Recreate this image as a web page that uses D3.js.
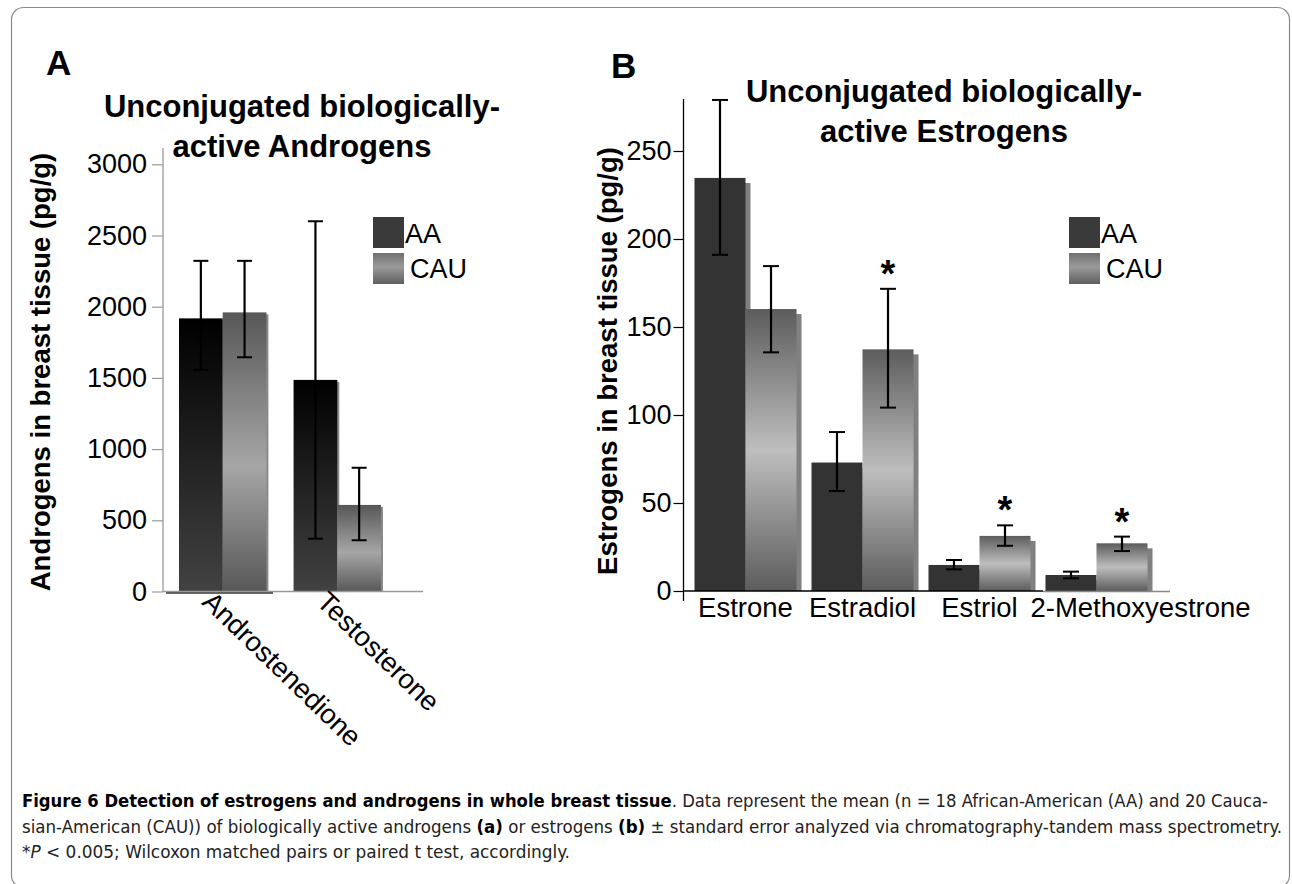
<!DOCTYPE html>
<html><head><meta charset="utf-8">
<script src="https://cdn.jsdelivr.net/npm/d3@7"></script>
<style>
html,body{margin:0;padding:0;background:#fff;}
svg{display:block;font-family:"Liberation Sans",Arial,sans-serif;}
.cap{font-family:"DejaVu Sans Condensed","DejaVu Sans",sans-serif;font-stretch:condensed;}
</style></head>
<body>
<svg id="c" width="1292" height="884"></svg>
<script>
// ---- Data ----
const seriesNames = ["AA", "CAU"];

const androCategories = ["Androstenedione", "Testosterone"];
const androAA = [1918, 1486];
const androAAHi = [2322, 2600];
const androAALo = [1556, 371];
const androCAU = [1960, 608];
const androCAUHi = [2322, 869];
const androCAULo = [1645, 360];
const androTicks = [0, 500, 1000, 1500, 2000, 2500, 3000];

const estroCategories = ["Estrone", "Estradiol", "Estriol", "2-Methoxyestrone"];
const estroAA = [234.7, 73, 14.8, 9.1];
const estroAAHi = [279, 90.3, 17.6, 11];
const estroAALo = [191, 56.8, 12.3, 7.2];
const estroCAU = [160.2, 137.3, 31.3, 27.1];
const estroCAUHi = [184.6, 171.7, 37.3, 30.9];
const estroCAULo = [135.6, 104.2, 25.7, 22.7];
const estroSig = [false, true, true, true];
const estroTicks = [0, 50, 100, 150, 200, 250];

const svg = d3.select("#c");
const defs = svg.append("defs");
function grad(id, stops) {
  const g = defs.append("linearGradient").attr("id", id)
    .attr("x1", 0).attr("y1", 0).attr("x2", 0).attr("y2", 1);
  stops.forEach(s => g.append("stop").attr("offset", s[0]).attr("stop-color", s[1]));
}
grad("gAAa", [[0, "#000"], [1, "#424242"]]);
grad("gCAUa", [[0, "#575757"], [0.55, "#a6a6a6"], [1, "#585858"]]);
grad("gAAb", [[0, "#333"], [1, "#333"]]);
grad("gCAUb", [[0, "#5c5c5c"], [0.5, "#bebebe"], [1, "#5c5c5c"]]);
grad("gLegCAU", [[0, "#707070"], [0.45, "#9a9a9a"], [1, "#5e5e5e"]]);

// frame
svg.append("rect").attr("x", 11.5).attr("y", 7.5).attr("width", 1278).attr("height", 880)
  .attr("rx", 12).attr("fill", "none").attr("stroke", "#8a8a8a").attr("stroke-width", 1.2);

function panel(o) {
  const g = svg.append("g");
  const x0 = d3.scaleBand().domain(o.cats).range(o.xRange).paddingInner(o.padInner).paddingOuter(0);
  const x1 = d3.scaleBand().domain(seriesNames).range([0, x0.bandwidth()]);
  const y = d3.scaleLinear().domain(o.yDomain).range(o.yRange);

  // y axis
  const ax = g.append("g").attr("transform", `translate(${o.axisX},0)`)
    .call(d3.axisLeft(y).tickValues(o.ticks).tickFormat(d3.format("d"))
      .tickSize(o.tickSize).tickPadding(o.tickPad));
  ax.select(".domain").remove();
  ax.selectAll(".tick line").attr("stroke", o.axisColor).attr("stroke-width", 1.2);
  ax.selectAll(".tick text").attr("font-size", 27).attr("fill", "#000")
    .attr("font-family", "Liberation Sans, Arial, sans-serif");
  g.append("line").attr("x1", o.axisX).attr("x2", o.axisX)
    .attr("y1", o.axisTop).attr("y2", o.axisBottom)
    .attr("stroke", o.axisColor).attr("stroke-width", 1.3);

  const rows = [];
  o.cats.forEach((c, i) => {
    rows.push({c, s: "AA", v: o.aa[i], hi: o.aaHi[i], lo: o.aaLo[i]});
    rows.push({c, s: "CAU", v: o.cau[i], hi: o.cauHi[i], lo: o.cauLo[i]});
  });

  // shadows
  g.selectAll(".sh").data(rows).join("rect")
    .attr("x", d => x0(d.c) + x1(d.s) + o.shadow)
    .attr("y", d => y(d.v) + o.shadow)
    .attr("width", x1.bandwidth())
    .attr("height", d => y(0) - y(d.v) - o.shadow)
    .attr("fill", o.shadowColor);
  // bars
  g.selectAll(".bar").data(rows).join("rect")
    .attr("x", d => x0(d.c) + x1(d.s))
    .attr("y", d => y(d.v))
    .attr("width", x1.bandwidth())
    .attr("height", d => y(0) - y(d.v))
    .attr("fill", d => d.s === "AA" ? `url(#${o.gAA})` : `url(#${o.gCAU})`);

  // x axis line
  o.xLines.forEach(l => g.append("line").attr("x1", l[0]).attr("x2", l[1])
    .attr("y1", y(0) + l[3]).attr("y2", y(0) + l[3]).attr("stroke", l[2]).attr("stroke-width", 1.5));

  // error bars
  const cx = d => x0(d.c) + x1(d.s) + x1.bandwidth() / 2;
  const eb = g.selectAll(".eb").data(rows).join("g");
  eb.append("line").attr("x1", cx).attr("x2", cx).attr("y1", d => y(d.hi)).attr("y2", d => y(d.lo))
    .attr("stroke", "#000").attr("stroke-width", 2.2);
  eb.append("line").attr("x1", d => cx(d) - o.cap).attr("x2", d => cx(d) + o.cap)
    .attr("y1", d => y(d.hi)).attr("y2", d => y(d.hi)).attr("stroke", "#000").attr("stroke-width", 2);
  eb.append("line").attr("x1", d => cx(d) - o.cap).attr("x2", d => cx(d) + o.cap)
    .attr("y1", d => y(d.lo)).attr("y2", d => y(d.lo)).attr("stroke", "#000").attr("stroke-width", 2);

  // significance
  if (o.sig) {
    g.selectAll(".sig").data(rows.filter(d => d.s === "CAU" && o.sig[o.cats.indexOf(d.c)]))
      .join("text").attr("x", cx).attr("y", d => y(d.hi) - 2)
      .attr("text-anchor", "middle").attr("font-size", 38).attr("font-weight", "bold").text("*");
  }

  // category labels
  o.catLabel(g, x0, y);

  // titles
  g.append("text").attr("x", o.letter[0]).attr("y", o.letter[1]).attr("font-size", 35)
    .attr("font-weight", "bold").text(o.letterText);
  o.title.forEach((t, i) => g.append("text").attr("x", o.titleX).attr("y", o.titleY + i * 40)
    .attr("text-anchor", "middle").attr("font-size", 31).attr("font-weight", "bold").text(t));
  g.append("text").attr("transform", `translate(${o.ylab[0]},${o.ylab[1]}) rotate(-90)`)
    .attr("text-anchor", "middle").attr("font-size", 27.5).attr("font-weight", "bold").text(o.ylabText);

  // legend
  const lg = g.append("g").attr("transform", `translate(${o.legend[0]},${o.legend[1]})`);
  lg.append("rect").attr("x", 0).attr("y", 0).attr("width", 31).attr("height", 31).attr("fill", "#3a3a3a");
  lg.append("rect").attr("x", 0).attr("y", 36).attr("width", 31).attr("height", 31).attr("fill", "url(#gLegCAU)");
  lg.append("text").attr("x", 32).attr("y", 26).attr("font-size", 27).text(seriesNames[0]);
  lg.append("text").attr("x", 37).attr("y", 61).attr("font-size", 27).text(seriesNames[1]);
}

panel({
  cats: androCategories, aa: androAA, aaHi: androAAHi, aaLo: androAALo,
  cau: androCAU, cauHi: androCAUHi, cauLo: androCAULo,
  xRange: [179, 381], padInner: 0.237,
  yDomain: [0, 3000], yRange: [591.5, 164.3], ticks: androTicks,
  axisX: 163, axisTop: 148, axisBottom: 592, axisColor: "#999", tickSize: 11, tickPad: 5,
  shadow: 2, shadowColor: "#8a8a8a", gAA: "gAAa", gCAU: "gCAUa", cap: 7.5,
  xLines: [[163, 423, "#999", 0], [166, 273, "#333", 1.5]],
  catLabel: (g, x0, y) => {
    androCategories.forEach(c => {
      g.append("text").attr("transform", `translate(${x0(c) + x0.bandwidth() / 2 - 22},${y(0) + 12}) rotate(44)`)
        .attr("font-size", 27.5).text(c);
    });
  },
  letter: [46, 75], letterText: "A",
  title: ["Unconjugated biologically-", "active Androgens"], titleX: 302, titleY: 117,
  ylab: [50, 372], ylabText: "Androgens in breast tissue (pg/g)",
  legend: [373, 217]
});

panel({
  cats: estroCategories, aa: estroAA, aaHi: estroAAHi, aaLo: estroAALo,
  cau: estroCAU, cauHi: estroCAUHi, cauLo: estroCAULo, sig: estroSig,
  xRange: [694.5, 1147.5], padInner: 0.128,
  yDomain: [0, 250], yRange: [591, 151], ticks: estroTicks,
  axisX: 683.5, axisTop: 99, axisBottom: 601, axisColor: "#000", tickSize: 10, tickPad: 2,
  shadow: 5, shadowColor: "#808080", gAA: "gAAb", gCAU: "gCAUb", cap: 8,
  xLines: [[683, 1043, "#000", 0], [1043, 1170, "#888", 0.5]],
  catLabel: (g, x0, y) => {
    estroCategories.forEach((c, i) => {
      const last = i === estroCategories.length - 1;
      g.append("text").attr("x", last ? x0(c) - 15 : x0(c) + x0.bandwidth() / 2)
        .attr("y", y(0) + 26).attr("text-anchor", last ? "start" : "middle")
        .attr("font-size", 27.5).text(c);
    });
  },
  letter: [611, 78], letterText: "B",
  title: ["Unconjugated biologically-", "active Estrogens"], titleX: 944, titleY: 102,
  ylab: [617, 361], ylabText: "Estrogens in breast tissue (pg/g)",
  legend: [1069, 217]
});

// caption
const cap = svg.append("g").attr("class", "cap").attr("font-size", 17).attr("fill", "#222");
const l1 = cap.append("text").attr("x", 22).attr("y", 807).attr("textLength", 1246).attr("lengthAdjust", "spacingAndGlyphs");
l1.append("tspan").attr("font-weight", "bold").attr("fill", "#000").text("Figure 6 Detection of estrogens and androgens in whole breast tissue");
l1.append("tspan").text(". Data represent the mean (n = 18 African-American (AA) and 20 Cauca-");
const l2 = cap.append("text").attr("x", 22).attr("y", 833).attr("textLength", 1260).attr("lengthAdjust", "spacingAndGlyphs");
l2.append("tspan").text("sian-American (CAU)) of biologically active androgens ");
l2.append("tspan").attr("font-weight", "bold").attr("fill", "#000").text("(a)");
l2.append("tspan").text(" or estrogens ");
l2.append("tspan").attr("font-weight", "bold").attr("fill", "#000").text("(b)");
l2.append("tspan").text(" ± standard error analyzed via chromatography-tandem mass spectrometry.");
const l3 = cap.append("text").attr("x", 22).attr("y", 858).attr("textLength", 548).attr("lengthAdjust", "spacingAndGlyphs");
l3.append("tspan").text("*");
l3.append("tspan").attr("font-style", "italic").text("P");
l3.append("tspan").text(" < 0.005; Wilcoxon matched pairs or paired t test, accordingly.");
</script>
</body></html>
